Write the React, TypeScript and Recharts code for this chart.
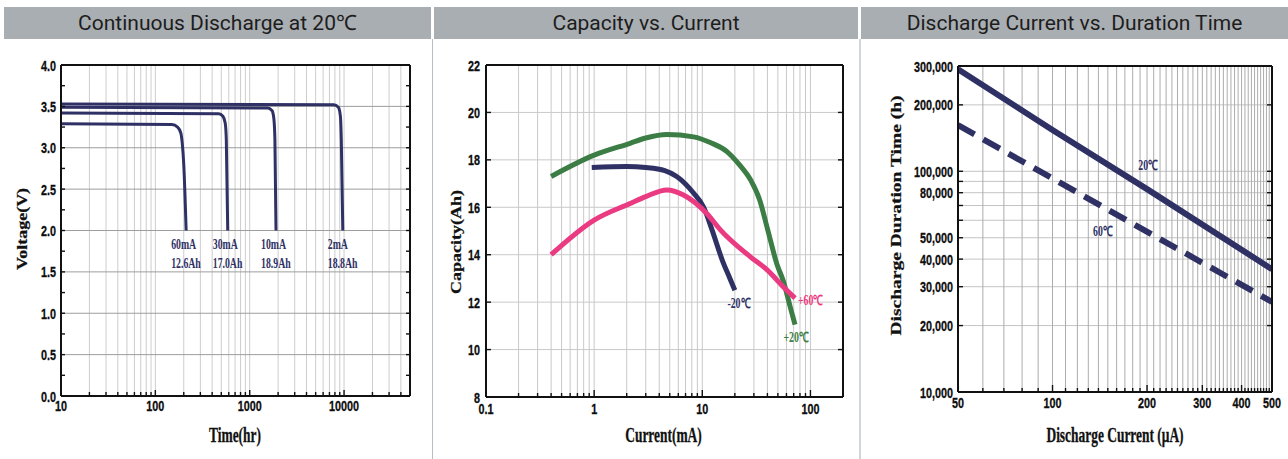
import React from "react";
import { LineChart, Line, XAxis, YAxis, CartesianGrid } from "recharts";

// Continuous Discharge at 20℃  (t = hours, v = volts)
const DISCHARGE_2MA = [
  { t: 10, v: 3.53 }, { t: 7800, v: 3.52 }, { t: 8700, v: 3.49 }, { t: 9150, v: 3.38 },
  { t: 9350, v: 3.1 }, { t: 9700, v: 2.0 },
];
const DISCHARGE_10MA = [
  { t: 10, v: 3.49 }, { t: 1550, v: 3.48 }, { t: 1720, v: 3.45 }, { t: 1800, v: 3.36 },
  { t: 1850, v: 3.1 }, { t: 1900, v: 2.0 },
];
const DISCHARGE_30MA = [
  { t: 10, v: 3.42 }, { t: 470, v: 3.41 }, { t: 520, v: 3.38 }, { t: 550, v: 3.3 },
  { t: 565, v: 3.1 }, { t: 585, v: 2.0 },
];
const DISCHARGE_60MA = [
  { t: 10, v: 3.29 }, { t: 150, v: 3.28 }, { t: 172, v: 3.25 }, { t: 186, v: 3.18 },
  { t: 193, v: 3.05 }, { t: 200, v: 2.8 }, { t: 212, v: 2.0 },
];
const DISCHARGE_CURRENTS = ["2mA", "10mA", "30mA", "60mA"];
const DISCHARGE_CAPACITIES = ["18.8Ah", "18.9Ah", "17.0Ah", "12.6Ah"];
const TIME_LABELS = [10, 100, 1000, 10000];
const VOLT_LABELS = [0, 0.5, 1, 1.5, 2, 2.5, 3, 3.5, 4];
const VOLT_MINOR = [0, 0.25, 0.5, 0.75, 1, 1.25, 1.5, 1.75, 2, 2.25, 2.5, 2.75, 3, 3.25, 3.5, 3.75, 4];

// Capacity vs. Current  (i = mA, c = Ah)
const CAP_PLUS20 = [
  { i: 0.4, c: 17.3 }, { i: 1, c: 18.2 }, { i: 2.15, c: 18.7 }, { i: 3, c: 18.92 }, { i: 4.7, c: 19.07 },
  { i: 8.3, c: 18.97 }, { i: 12, c: 18.72 }, { i: 17, c: 18.34 }, { i: 22, c: 17.8 }, { i: 28, c: 17.15 },
  { i: 34, c: 16.3 }, { i: 40, c: 15.1 }, { i: 49, c: 13.6 }, { i: 56, c: 12.9 }, { i: 65, c: 11.8 },
  { i: 72, c: 11.05 },
];
const CAP_MINUS20 = [
  { i: 0.95, c: 17.68 }, { i: 2, c: 17.72 }, { i: 3, c: 17.68 }, { i: 4.5, c: 17.55 }, { i: 5.8, c: 17.3 },
  { i: 8.3, c: 16.6 }, { i: 10.3, c: 16.0 }, { i: 12.3, c: 15.05 }, { i: 15.5, c: 13.7 }, { i: 18, c: 13.0 },
  { i: 20, c: 12.5 },
];
const CAP_PLUS60 = [
  { i: 0.4, c: 14.0 }, { i: 1, c: 15.46 }, { i: 2.15, c: 16.16 }, { i: 3, c: 16.45 }, { i: 4.7, c: 16.73 },
  { i: 6.7, c: 16.52 }, { i: 11, c: 15.74 }, { i: 14.7, c: 15.05 }, { i: 28, c: 13.9 }, { i: 40, c: 13.35 },
  { i: 56, c: 12.65 }, { i: 72, c: 12.17 },
];
const CURRENT_LABELS = [0.1, 1, 10, 100];
const CAPACITY_LABELS = [8, 10, 12, 14, 16, 18, 20, 22];

// Discharge Current vs. Duration Time  (i = µA, h = hours)
const DURATION_20C = [{ i: 50, h: 290000 }, { i: 100, h: 154000 }, { i: 200, h: 83000 }, { i: 500, h: 36000 }];
const DURATION_60C = [{ i: 50, h: 162000 }, { i: 150, h: 67000 }, { i: 500, h: 25600 }];
const DUR_X_LABELS = [50, 100, 200, 300, 400, 500];
const DUR_Y_LABELS = [10000, 20000, 30000, 40000, 50000, 80000, 100000, 200000, 300000];

const NAVY = "#2f3165";
const GREEN = "#3b7d45";
const PINK = "#ea3b82";
const SANS = "'Liberation Sans', Arial, sans-serif";
const SERIF = "'Liberation Serif', 'Times New Roman', serif";

const logMinor = (from: number, to: number) => {
  const out: number[] = [];
  for (let d = Math.pow(10, Math.floor(Math.log10(from) + 1e-9)); d <= to; d *= 10)
    for (let m = 1; m <= 9; m++) {
      const v = +(m * d).toPrecision(6);
      if (v >= from * 0.999999 && v <= to * 1.000001) out.push(v);
    }
  return out;
};
const TIME_TICKS = logMinor(10, 50000);
const CURRENT_TICKS = logMinor(0.1, 200);
const DUR_Y_TICKS = logMinor(10000, 300000);
const DUR_X_TICKS: number[] = [];
for (let v = 50; v <= 500; v += 10) DUR_X_TICKS.push(v);

const has = (arr: number[] | undefined, v: number) => !!arr && arr.some((a) => Math.abs(a - v) <= Math.abs(v) * 1e-6 + 1e-12);

type TickOpts = { labels?: number[]; fmt?: (v: number) => string; major?: number[]; len: number; majorLen?: number; gap?: number };

function axisTick(side: "bottom" | "top" | "left" | "right", o: TickOpts) {
  return (props: any) => {
    const { x, y, payload } = props;
    const v = Number(payload.value);
    const len = has(o.major, v) ? o.majorLen ?? o.len : o.len;
    const text = has(o.labels, v) ? (o.fmt ? o.fmt(v) : String(v)) : null;
    const gap = o.gap ?? 14;
    let x2 = x, y2 = y, tx = x, ty = y, anchor = "middle";
    if (side === "bottom") { y2 = y - len; ty = y + gap; }
    if (side === "top") { y2 = y + len; }
    if (side === "left") { x2 = x + len; tx = x - gap; ty = y + 5.5; anchor = "end"; }
    if (side === "right") { x2 = x - len; }
    return (
      <g>
        <line x1={x} y1={y} x2={x2} y2={y2} stroke="#111" strokeWidth={1.4} />
        {text && (
          <text transform={`translate(${tx},${ty}) scale(0.72,1)`} textAnchor={anchor} fontFamily={SANS}
            fontWeight={700} fontSize={15} fill="#0d0d0d" stroke="#0d0d0d" strokeWidth={0.3}>{text}</text>
        )}
      </g>
    );
  };
}

const xTitle = (text: string, cx: number, by: number) => () => (
  <text transform={`translate(${cx},${by}) scale(0.64,1)`} textAnchor="middle" fontFamily={SERIF}
    fontWeight={700} fontSize={21} fill="#111" stroke="#111" strokeWidth={0.3}>{text}</text>
);
const yTitle = (text: string, cx: number, cy: number, size: number) => () => (
  <text transform={`translate(${cx},${cy}) scale(0.78,1) rotate(-90)`} textAnchor="middle" dominantBaseline="central"
    fontFamily={SERIF} fontWeight={700} fontSize={size} fill="#111" stroke="#111" strokeWidth={0.3}>{text}</text>
);

const noteText = (x: number, y: number, text: string, color: string, anchor = "start", size = 14) => (
  <text transform={`translate(${x},${y}) scale(0.7,1)`} textAnchor={anchor} fontFamily={SERIF}
    fontWeight={700} fontSize={size} fill={color}>{text}</text>
);

// label rendered at one point of a series
const pointLabel = (index: number, render: (x: number, y: number) => React.ReactNode) => (p: any) =>
  p.index === index ? <g>{render(Number(p.x), Number(p.y))}</g> : <g />;

const frame = { tickSize: 0, tickMargin: 0, tickLine: false, interval: 0 as const, axisLine: { stroke: "#111", strokeWidth: 2 }, allowDataOverflow: true };

function DischargeChart() {
  const series = [DISCHARGE_2MA, DISCHARGE_10MA, DISCHARGE_30MA, DISCHARGE_60MA];
  return (
    <LineChart width={430} height={419} margin={{ top: 20, right: 0, bottom: 13, left: 0 }}>
      <CartesianGrid stroke="#cdcdcd" horizontal={false} />
      <CartesianGrid stroke="#9d9d9d" vertical={false} horizontalValues={[0.5, 1, 1.5, 2, 2.5, 3, 3.5]} />
      <XAxis dataKey="t" type="number" scale="log" domain={[10, 50000]} ticks={TIME_TICKS} height={50} {...frame}
        tick={axisTick("bottom", { labels: TIME_LABELS, major: TIME_LABELS, len: 4, majorLen: 6, gap: 15 })}
        label={xTitle("Time(hr)", 235, 402)} />
      <XAxis xAxisId="top" orientation="top" type="number" scale="log" domain={[10, 50000]} ticks={TIME_TICKS} height={5} {...frame}
        tick={axisTick("top", { major: TIME_LABELS, len: 4, majorLen: 6 })} />
      <YAxis type="number" domain={[0, 4]} ticks={VOLT_MINOR} width={61} {...frame}
        tick={axisTick("left", { labels: VOLT_LABELS, fmt: (v) => v.toFixed(1), len: 4, gap: 5 })}
        label={yTitle("Voltage(V)", 22, 189, 18)} />
      <YAxis yAxisId="r" orientation="right" type="number" domain={[0, 4]} ticks={VOLT_MINOR} width={20} {...frame}
        tick={axisTick("right", { len: 4 })} />
      {series.map((d, k) => (
        <Line key={k} data={d} dataKey="v" type="monotone" stroke={NAVY} strokeWidth={3} dot={false} isAnimationActive={false}
          label={pointLabel(d.length - 1, (x, y) => (
            <>
              {noteText(x - 15, y + 18, DISCHARGE_CURRENTS[k], NAVY)}
              {noteText(x - 15, y + 37, DISCHARGE_CAPACITIES[k], NAVY)}
            </>
          ))} />
      ))}
    </LineChart>
  );
}

function CapacityChart() {
  return (
    <LineChart width={424} height={419} margin={{ top: 20, right: 0, bottom: 12, left: 0 }}>
      <CartesianGrid stroke="#c9c9c9" />
      <XAxis dataKey="i" type="number" scale="log" domain={[0.1, 200]} ticks={CURRENT_TICKS} height={50} {...frame}
        tick={axisTick("bottom", { labels: CURRENT_LABELS, major: CURRENT_LABELS, len: 4, majorLen: 7, gap: 17 })}
        label={xTitle("Current(mA)", 229.5, 402)} />
      <XAxis xAxisId="top" orientation="top" type="number" scale="log" domain={[0.1, 200]} ticks={CURRENT_TICKS} height={5} {...frame}
        tick={axisTick("top", { major: CURRENT_LABELS, len: 4, majorLen: 7 })} />
      <YAxis type="number" domain={[8, 22]} ticks={CAPACITY_LABELS} width={52} {...frame}
        tick={axisTick("left", { labels: CAPACITY_LABELS, len: 5, gap: 6 })}
        label={yTitle("Capacity(Ah)", 22.5, 202, 18)} />
      <YAxis yAxisId="r" orientation="right" type="number" domain={[8, 22]} ticks={CAPACITY_LABELS} width={15} {...frame}
        tick={axisTick("right", { len: 5 })} />
      <Line data={CAP_PLUS20} dataKey="c" type="monotone" stroke={GREEN} strokeWidth={5} dot={false} isAnimationActive={false}
        label={pointLabel(CAP_PLUS20.length - 1, (x, y) => noteText(x + 1, y + 17, "+20℃", GREEN, "middle"))} />
      <Line data={CAP_MINUS20} dataKey="c" type="monotone" stroke={NAVY} strokeWidth={5} dot={false} isAnimationActive={false}
        label={pointLabel(CAP_MINUS20.length - 1, (x, y) => noteText(x + 4, y + 18, "-20℃", NAVY, "middle"))} />
      <Line data={CAP_PLUS60} dataKey="c" type="monotone" stroke={PINK} strokeWidth={5} dot={false} isAnimationActive={false}
        label={pointLabel(CAP_PLUS60.length - 1, (x, y) => noteText(x + 3, y + 7, "+60℃", PINK))} />
    </LineChart>
  );
}

function DurationChart() {
  const fmt = (v: number) => v.toLocaleString("en-US");
  const majors = [100, 200, 300, 400, 500];
  return (
    <LineChart width={427} height={419} margin={{ top: 21, right: 0, bottom: 17, left: 0 }}>
      <CartesianGrid stroke="#c4c4c4" vertical={false} />
      <CartesianGrid stroke="#acacac" horizontal={false} />
      <XAxis dataKey="i" type="number" scale="log" domain={[50, 500]} ticks={DUR_X_TICKS} height={50} {...frame}
        tick={axisTick("bottom", { labels: DUR_X_LABELS, major: majors, len: 4, majorLen: 7, gap: 16 })}
        label={xTitle("Discharge Current (μA)", 254, 402)} />
      <XAxis xAxisId="top" orientation="top" type="number" scale="log" domain={[50, 500]} ticks={DUR_X_TICKS} height={5} {...frame}
        tick={axisTick("top", { major: majors, len: 4, majorLen: 7 })} />
      <YAxis type="number" scale="log" domain={[10000, 300000]} ticks={DUR_Y_TICKS} width={97} {...frame}
        tick={axisTick("left", { labels: DUR_Y_LABELS, fmt, len: 5, gap: 5 })}
        label={yTitle("Discharge Duration Time (h)", 35, 175.5, 19.5)} />
      <YAxis yAxisId="r" orientation="right" type="number" scale="log" domain={[10000, 300000]} ticks={DUR_Y_TICKS} width={16} {...frame}
        tick={axisTick("right", { len: 5 })} />
      <Line data={DURATION_20C} dataKey="h" type="linear" stroke={NAVY} strokeWidth={6} dot={false} isAnimationActive={false}
        label={pointLabel(2, (x, y) => noteText(x + 1, y - 19, "20℃", NAVY, "middle", 14))} />
      <Line data={DURATION_60C} dataKey="h" type="linear" stroke={NAVY} strokeWidth={6} strokeDasharray="19 10" dot={false}
        isAnimationActive={false}
        label={pointLabel(1, (x, y) => noteText(x - 5, y + 26, "60℃", NAVY, "middle", 14))} />
    </LineChart>
  );
}

const HEADERS = [
  { title: "Continuous Discharge at 20℃", left: 4, width: 427 },
  { title: "Capacity vs. Current", left: 434, width: 424 },
  { title: "Discharge Current vs. Duration Time", left: 861, width: 427 },
];

export default function App() {
  return (
    <div style={{ position: "absolute", left: 0, top: 0, width: 1288, height: 459, background: "#fff", overflow: "hidden" }}>
      {HEADERS.map((h) => (
        <div key={h.title} style={{
          position: "absolute", left: h.left, top: 7, width: h.width, height: 32, background: "#a9aeb2",
          color: "#1d1d1d", fontFamily: "Roboto, 'Noto Sans', sans-serif", fontSize: 21, lineHeight: "32px", textAlign: "center",
        }}>{h.title}</div>
      ))}
      <div style={{ position: "absolute", left: 432, top: 39, width: 1, height: 420, background: "#b7bec6" }} />
      <div style={{ position: "absolute", left: 859, top: 39, width: 2, height: 420, background: "#d0d5da" }} />
      <div style={{ position: "absolute", left: 0, top: 40 }}><DischargeChart /></div>
      <div style={{ position: "absolute", left: 434, top: 40 }}><CapacityChart /></div>
      <div style={{ position: "absolute", left: 861, top: 40 }}><DurationChart /></div>
    </div>
  );
}
